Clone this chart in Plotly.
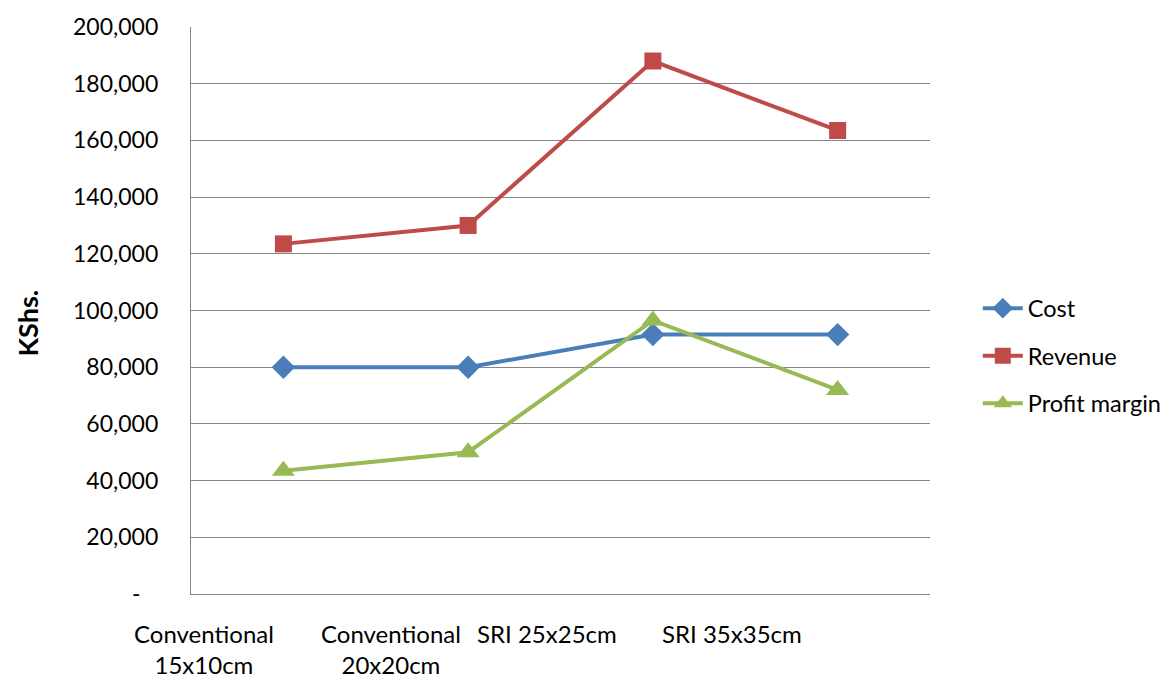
import plotly.graph_objects as go

# Rice spacing treatments and their economics (KShs.)
categories = ["Conventional 15x10cm", "Conventional 20x20cm", "SRI 25x25cm", "SRI 35x35cm"]
category_labels = ["Conventional<br>15x10cm", "Conventional<br>20x20cm", "SRI 25x25cm", "SRI 35x35cm"]
cost = [80000, 80000, 91500, 91500]
revenue = [123500, 130000, 188000, 163500]
profit_margin = [43500, 50000, 96500, 72000]

y_ticks = list(range(0, 200001, 20000))
y_ticktext = ["-\u00a0\u00a0\u00a0"] + [f"{v:,}" for v in y_ticks[1:]]

FONT = "Lato"
fig = go.Figure()

series = [
    ("Cost", cost, "#4A7EBB", "diamond", 18),
    ("Revenue", revenue, "#BE4B48", "square", 17),
    ("Profit margin", profit_margin, "#98B954", "triangle-up", 20),
]
for name, vals, color, symbol, size in series:
    fig.add_trace(go.Scatter(
        x=categories, y=vals, name=name, mode="lines+markers",
        line=dict(color=color, width=4),
        marker=dict(symbol=symbol, size=size, color=color),
        legendgroup=name,
    ))

# Category labels sit left of the category centres
label_shift = [-0.43, -0.42, -0.575, -0.57]
for i, (lab, s) in enumerate(zip(category_labels, label_shift)):
    fig.add_annotation(
        x=i + s, y=0, xref="x", yref="paper", yshift=-23,
        text=lab, showarrow=False, yanchor="top", align="center",
        font=dict(family=FONT, size=24, color="#000000"),
    )

fig.add_annotation(
    x=-0.22, y=0.478, xref="paper", yref="paper", xanchor="center", yanchor="middle",
    text="<b>KShs.</b>", textangle=-90, showarrow=False,
    font=dict(family=FONT, size=27, color="#000000"),
)

fig.update_layout(
    width=1171, height=679,
    margin=dict(l=191, r=241, t=24, b=85),
    paper_bgcolor="white", plot_bgcolor="white",
    font=dict(family=FONT, size=24, color="#000000"),
    showlegend=True,
    legend=dict(
        xref="container", yref="paper",
        x=0.835, y=0.42, xanchor="left", yanchor="middle",
        traceorder="grouped", tracegroupgap=14,
        font=dict(family=FONT, size=23.5, color="#000000"),
        itemwidth=40,
    ),
    xaxis=dict(
        type="category", range=[-0.5, 3.5],
        showticklabels=False, showgrid=False, zeroline=False,
        showline=True, linecolor="#868686", linewidth=1.3,
    ),
    yaxis=dict(
        range=[0, 200000], tickvals=y_ticks, ticktext=y_ticktext,
        showgrid=True, gridcolor="#868686", gridwidth=1.2,
        zeroline=False, showline=True, linecolor="#868686", linewidth=1.3,
        ticklabelstandoff=27,
        tickfont=dict(family=FONT, size=23, color="#000000"),
    ),
)

fig.write_html("out.html")
